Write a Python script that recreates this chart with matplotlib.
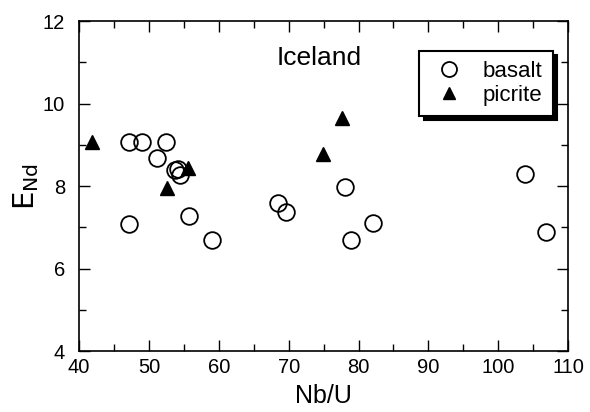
import numpy as np
import matplotlib.pyplot as plt
from matplotlib.ticker import MultipleLocator

plt.rcParams['font.family'] = ['Liberation Sans', 'DejaVu Sans']

# basalt samples (Nb/U, eNd)
basalt_nbu = [47.2, 49.0, 52.5, 51.2, 53.7, 54.1, 54.4, 47.1, 55.7, 59.0,
              68.5, 69.6, 78.0, 78.9, 82.1, 103.8, 106.8]
basalt_end = [9.07, 9.07, 9.07, 8.67, 8.39, 8.42, 8.27, 7.08, 7.28, 6.68,
              7.58, 7.38, 7.98, 6.68, 7.10, 8.30, 6.88]

# picrite samples
picrite_nbu = [41.8, 52.6, 55.6, 74.9, 77.7]
picrite_end = [9.07, 7.95, 8.43, 8.77, 9.66]

fig = plt.figure(figsize=(5.9, 4.12), dpi=100)
ax = fig.add_axes([0.134, 0.148, 0.829, 0.801])

ax.plot(basalt_nbu, basalt_end, 'o', ms=12, mfc='none', mec='k', mew=1.3,
        label='basalt')
ax.plot(picrite_nbu, picrite_end, '^', ms=10, color='k', label='picrite')

ax.set_xlim(40, 110)
ax.set_ylim(4, 12)
ax.xaxis.set_major_locator(MultipleLocator(10))
ax.xaxis.set_minor_locator(MultipleLocator(5))
ax.yaxis.set_major_locator(MultipleLocator(2))
ax.yaxis.set_minor_locator(MultipleLocator(1))
ax.tick_params(which='both', direction='in', top=True, right=True,
               labelsize=14.5, width=1)
ax.tick_params(which='major', length=8, pad=10)
ax.tick_params(axis='x', which='major', pad=5)
ax.tick_params(which='minor', length=5)
for s in ax.spines.values():
    s.set_linewidth(1.2)

ax.set_xlabel('Nb/U', fontsize=18, labelpad=5)
ax.set_ylabel(r'$\mathrm{E}_{\mathrm{Nd}}$', fontsize=21)
ax.yaxis.set_label_coords(-0.078, 0.5)

ax.text(74.4, 11.1, 'Iceland', fontsize=19, ha='center', va='center')

leg = ax.legend(loc='upper right', bbox_to_anchor=(0.968, 0.91),
                borderaxespad=0, fontsize=16, frameon=True, fancybox=False,
                shadow={'color': 'k', 'alpha': 1, 'ox': 3, 'oy': -3},
                handletextpad=0.6, borderpad=0.45, labelspacing=0.15,
                handlelength=1.8, markerscale=0.9)
leg.get_frame().set_edgecolor('k')
leg.get_frame().set_linewidth(1.5)

fig.savefig('out.png', dpi=100)
